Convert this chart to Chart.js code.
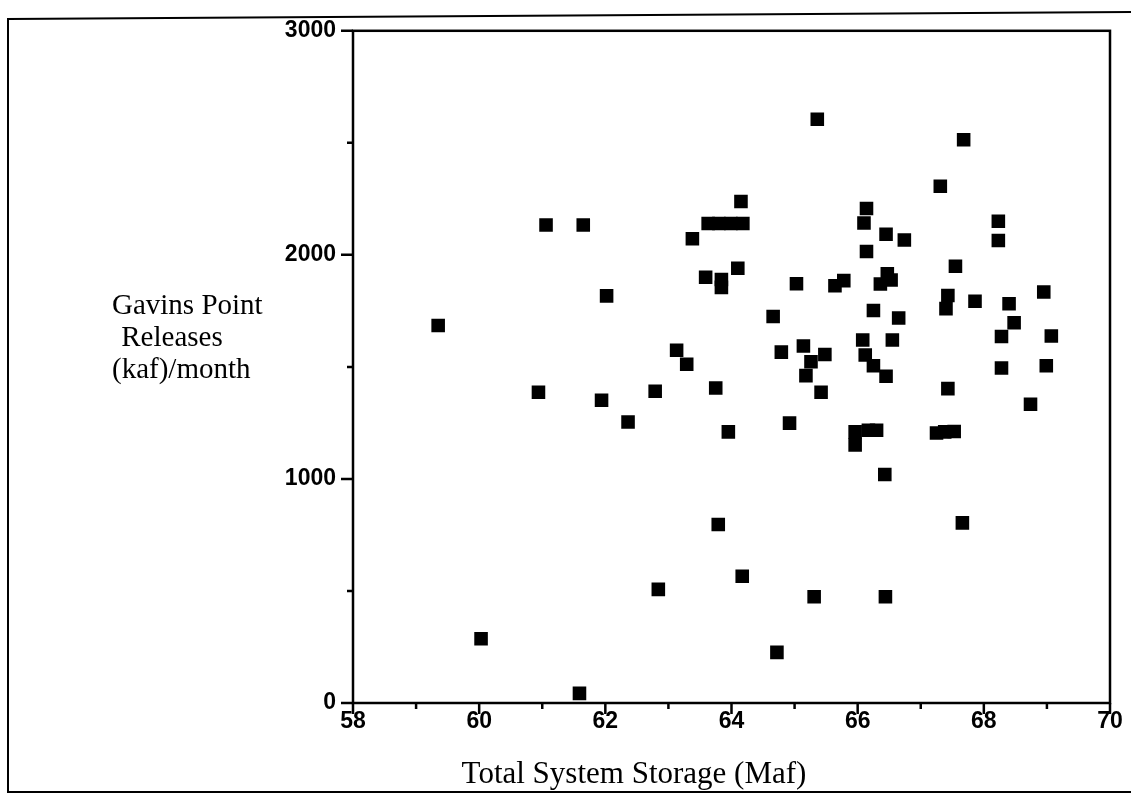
<!DOCTYPE html>
<html>
<head>
<meta charset="utf-8">
<script src="https://cdn.jsdelivr.net/npm/chart.js"></script>
<style>
body { margin: 0; background: #fff; }
#wrap { position: relative; width: 1131px; height: 795px; }
</style>
</head>
<body>
<div id="wrap"><canvas id="chart" width="1131" height="795"></canvas></div>
<script>
// Total system storage (Maf) and Gavins Point releases (kaf/month)
var storage = [59.35, 60.03, 60.94, 61.06, 61.59, 61.65, 61.94, 62.02, 62.36, 62.79,
    62.84, 63.13, 63.29, 63.38, 63.59, 63.63, 63.80, 63.99, 64.18, 63.75,
    63.79, 63.84, 63.84, 63.95, 64.10, 64.15, 64.17, 64.66, 64.72, 64.79,
    64.92, 65.03, 65.14, 65.48, 65.26, 65.18, 65.42, 65.31, 65.36, 65.64,
    65.78, 65.96, 65.96, 66.08, 66.55, 66.12, 66.25, 66.45, 66.10, 66.14,
    66.14, 66.45, 66.74, 66.17, 66.30, 66.36, 66.47, 66.53, 66.43, 66.44,
    66.25, 66.65, 67.25, 67.38, 67.53, 67.31, 67.68, 67.55, 67.43, 67.40,
    67.43, 67.66, 67.86, 68.23, 68.23, 68.28, 68.48, 68.40, 68.28, 68.74,
    68.95, 68.99, 69.07]
var releases = [1685, 287, 1387, 2133, 43, 2133, 1351, 1817, 1254, 1391,
    507, 1574, 1512, 2072, 1900, 2140, 2140, 2140, 2140, 1406,
    797, 1890, 1855, 1210, 1940, 2238, 566, 1725, 226, 1566,
    1249, 1871, 1593, 1555, 1523, 1461, 1387, 474, 2605, 1862,
    1885, 1210, 1152, 1620, 1620, 1553, 1505, 1458, 2142, 2207,
    2015, 2092, 2066, 1217, 1217, 1870, 1915, 1888, 1020, 474,
    1752, 1718, 1205, 1210, 1212, 2306, 2514, 1949, 1819, 1760,
    1403, 804, 1793, 2150, 2064, 1636, 1697, 1782, 1495, 1333,
    1834, 1505, 1638]

var xMin = 58, xMax = 70
var yMin = 0, yMax = 3000
var xTitle = "Total System Storage (Maf)"
var yTitle = ["Gavins Point", " Releases", "(kaf)/month"]

var points = storage.map(function(s, i){ return {x: s, y: releases[i]} })

var tickFont = {family: "'Liberation Sans', Arial, sans-serif", size: 23, weight: 'bold'}

var framePlugin = {
    id: 'frame',
    afterDraw: function(chart){
        var ctx = chart.ctx
        var a = chart.chartArea
        var xs = chart.scales.x, ys = chart.scales.y
        ctx.save()
        ctx.strokeStyle = '#000'
        // outer page frame
        ctx.lineWidth = 2
        ctx.beginPath()
        ctx.moveTo(1131, 12); ctx.lineTo(8, 19); ctx.lineTo(8, 792); ctx.lineTo(1131, 792)
        ctx.stroke()
        // plot box
        ctx.lineWidth = 2.5
        ctx.strokeRect(a.left, a.top, a.right - a.left, a.bottom - a.top)
        // ticks, major and minor
        ctx.beginPath()
        for (var v = xMin; v <= xMax; v += 1){
            var px = xs.getPixelForValue(v)
            ctx.moveTo(px, a.bottom); ctx.lineTo(px, a.bottom + (v % 2 == 0 ? 11 : 6))
        }
        for (var w = yMin; w <= yMax; w += 500){
            var py = ys.getPixelForValue(w)
            ctx.moveTo(a.left, py); ctx.lineTo(a.left - (w % 1000 == 0 ? 12 : 6), py)
        }
        ctx.stroke()
        // axis titles
        ctx.fillStyle = '#000'
        ctx.font = "29px 'Liberation Serif', 'Times New Roman', serif"
        ctx.textBaseline = 'alphabetic'
        ctx.textAlign = 'left'
        ctx.fillText(yTitle[0], 112, 314)
        ctx.fillText(yTitle[1], 114, 346)
        ctx.fillText(yTitle[2], 112, 378)
        ctx.font = "31px 'Liberation Serif', 'Times New Roman', serif"
        ctx.textAlign = 'center'
        ctx.fillText(xTitle, 634, 783)
        ctx.restore()
    }
}

var ctx = document.getElementById("chart").getContext("2d")
window.myChart = new Chart(ctx, {
    type: 'scatter',
    data: {
        datasets: [{
            label: 'Releases',
            data: points,
            pointStyle: 'rect',
            pointRadius: 9.6,
            pointHoverRadius: 9.6,
            backgroundColor: '#000',
            borderWidth: 0
        }]
    },
    options: {
        responsive: false,
        devicePixelRatio: 1,
        animation: false,
        layout: { padding: {left: 0, top: 30, right: 21, bottom: 0} },
        plugins: {
            legend: { display: false },
            tooltip: { enabled: false }
        },
        scales: {
            x: {
                type: 'linear',
                min: xMin,
                max: xMax,
                grid: { display: false, drawTicks: false },
                border: { display: false },
                ticks: {
                    stepSize: 1,
                    autoSkip: false,
                    maxRotation: 0,
                    padding: 5,
                    color: '#000',
                    font: tickFont,
                    callback: function(v){ return v % 2 == 0 ? v : '' }
                },
                afterFit: function(scale){ scale.height = 92 }
            },
            y: {
                type: 'linear',
                min: yMin,
                max: yMax,
                grid: { display: false, drawTicks: false },
                border: { display: false },
                ticks: {
                    stepSize: 500,
                    autoSkip: false,
                    padding: 17,
                    color: '#000',
                    font: tickFont,
                    callback: function(v){ return v % 1000 == 0 ? v : '' }
                },
                afterFit: function(scale){ scale.width = 353 }
            }
        }
    },
    plugins: [framePlugin]
})
</script>
</body>
</html>
